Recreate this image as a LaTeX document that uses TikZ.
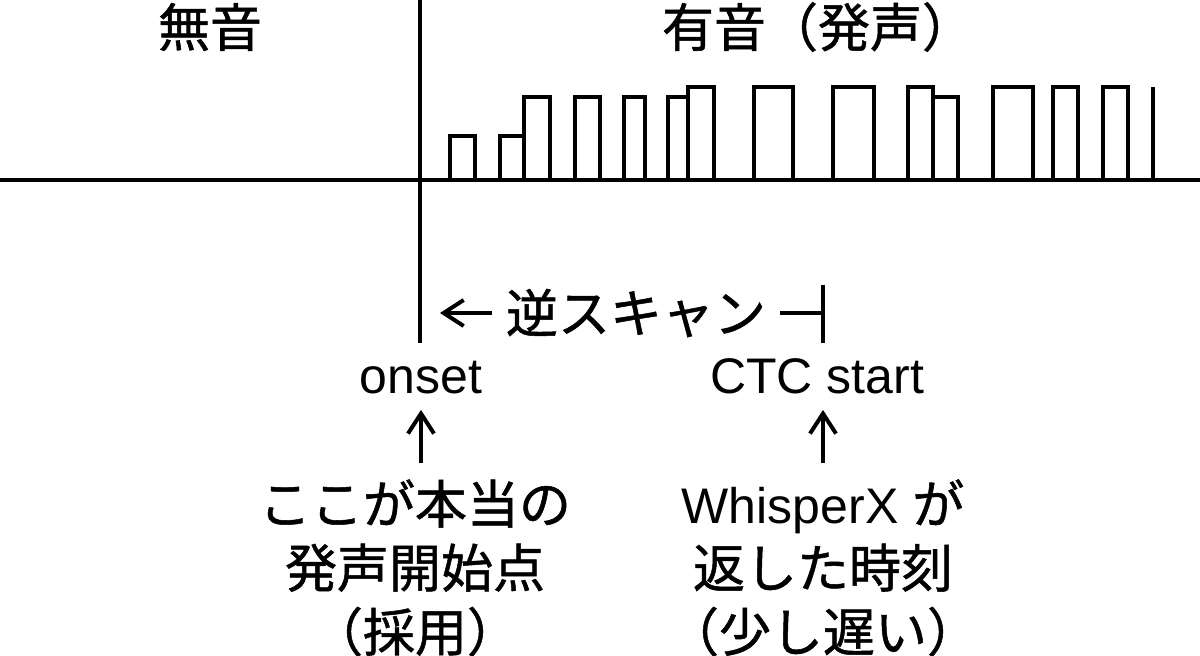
\documentclass[tikz,border=0pt]{standalone}
\usepackage{fontspec}
\setmainfont{Liberation Sans}
\newfontfamily\jp[Scale=1.04, FakeBold=1]{Noto Sans CJK JP}
\usetikzlibrary{
	positioning		% relative placement
	, arrows.meta		% Straight Barb tips
}

\begin{document}
\begin{tikzpicture}[
			x=0.5pt, y=-0.5pt,
			label/.style={
				font=\fontsize{25}{32}\selectfont,
				inner sep=8pt
			},
			note/.style={
				label,
				align=center
			},
			wave/.style={
				line width=2.3pt,
				line join=miter
			},
			pointer/.style={
				-{Straight Barb[length=10pt, width=13pt, line width=2pt]},
				line width=2pt
			},
			>=latex]

			\useasboundingbox (0,0) rectangle (1200,655);

			%%% Headings over the two regions
			\node [label] (silent) at (210,27) {\jp 無音};
			\node [label] (voiced) at (818,27) {\jp 有音（発声）};

			%%% The signal: flat line, then pulses after the onset
			\draw [wave] (0,180) -- (1200,180);
			\foreach \a/\b/\h in {450/475/136, 500/524/136, 524/550/97, 575/600/97,
				624/645/97, 668/688/97, 688/714/87, 754/793/87, 833/874/87,
				908/933/87, 933/958/97, 993/1033/87, 1053/1078/87, 1103/1128/87} {
				\draw [wave] (\a,180) |- (\b,\h) -- (\b,180);
			};
			\draw [wave] (1153,180) -- (1153,87);

			%%% Onset marker and the scan span
			\coordinate (onsettop) at (420,0);
			\coordinate (onsetbot) at (420,343);
			\draw [wave] (onsettop) -- (onsetbot);

			\coordinate (ctctop) at (823,285);
			\coordinate (ctcbot) at (823,343);
			\draw [wave] (ctctop) -- (ctcbot);

			\node [label, inner sep=7pt] (scan) at (636,313) {\jp 逆スキャン};
			\draw [pointer] (scan.west) -- ([xshift=10] scan.west -| onsettop);
			\draw [wave] (scan.east) -- (scan.east -| ctctop);

			%%% The two time points
			\node [label, anchor=base] (onset) at (421,393) {onset};
			\node [label, anchor=base] (ctc) at (817,393) {CTC start};

			\node [note, anchor=north] (truth) at (415,463) {\jp ここが本当の\\\jp 発声開始点\\\jp （採用）};
			\node [note, anchor=north] (whisper) at (823,463) {WhisperX {\jp が}\\\jp 返した時刻\\\jp （少し遅い）};

			\draw [pointer] (truth.north -| onset.south) -- (onset.south);
			\draw [pointer] (whisper.north -| ctctop) -- (ctc.south -| ctctop);

		\end{tikzpicture}
\end{document}
